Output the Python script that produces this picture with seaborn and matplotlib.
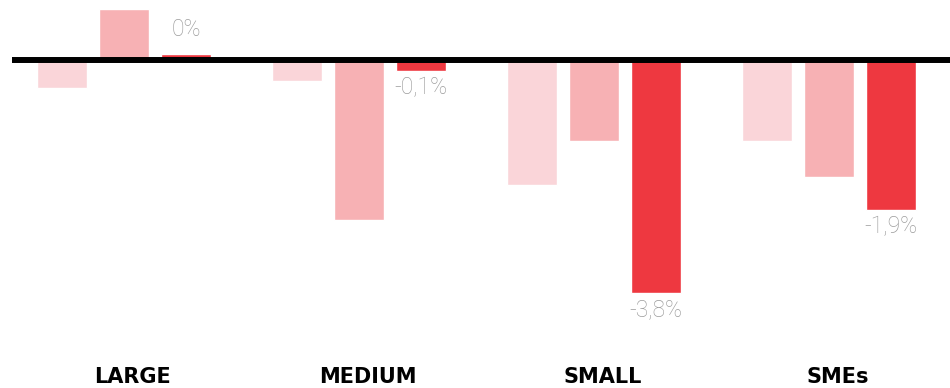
import matplotlib
matplotlib.use("Agg")
import matplotlib.pyplot as plt
import seaborn as sns
import pandas as pd

# ---- data ----
categories = ["LARGE", "MEDIUM", "SMALL", "SMEs"]
series = ["s1", "s2", "s3"]
values_s1 = [-0.46, -0.34, -2.04, -1.32]
values_s2 = [0.83, -2.61, -1.32, -1.91]
values_s3 = [0.09, -0.18, -3.80, -2.45]
labels_s3 = ["0%", "-0,1%", "-3,8%", "-1,9%"]
colors = ["#FAD5D9", "#F7B1B4", "#EE3840"]

df = pd.DataFrame({
    "category": categories * 3,
    "series": [series[0]] * 4 + [series[1]] * 4 + [series[2]] * 4,
    "value": values_s1 + values_s2 + values_s3,
})

sns.set_theme(style="white")
plt.rcParams["font.family"] = ["DejaVu Sans"]

fig = plt.figure(figsize=(9.5, 3.88), dpi=100)
ax = fig.add_axes([12 / 950, 0, 938 / 950, 1])

sns.barplot(data=df, x="category", y="value", hue="series", order=categories,
            hue_order=series, palette=colors, width=0.792, gap=0.193,
            saturation=1, legend=False, ax=ax, errorbar=None, zorder=2)

ax.axhline(0, color="black", lw=4.3, zorder=3)

ax.set_xlim(-0.478, 3.514)
ax.set_ylim(-5.36, 0.98)
for s in ax.spines.values():
    s.set_visible(False)
ax.set_xticks([])
ax.set_yticks([])
ax.set_xlabel("")
ax.set_ylabel("")

# value labels on the third series
lab_kw = dict(ha="center", color="#9C9C9C", fontsize=16.5,
              family=["Roboto", "DejaVu Sans"], fontweight="light", zorder=4)
cont = ax.containers[2]
for bar, lab, v in zip(cont, labels_s3, values_s3):
    cx = bar.get_x() + bar.get_width() / 2
    if v >= 0:
        ax.annotate(lab, (cx, v), xytext=(0, 10), textcoords="offset points",
                    va="bottom", **lab_kw)
    else:
        ax.annotate(lab, (cx, v), xytext=(0, -4), textcoords="offset points",
                    va="top", **lab_kw)

# category labels
for i, c in enumerate(categories):
    ax.text(i + 0.035, 0.003, c, transform=ax.get_xaxis_transform(),
            ha="center", va="bottom", fontsize=15, fontweight="heavy",
            color="black")

fig.savefig("out.png", dpi=100, facecolor="white")
